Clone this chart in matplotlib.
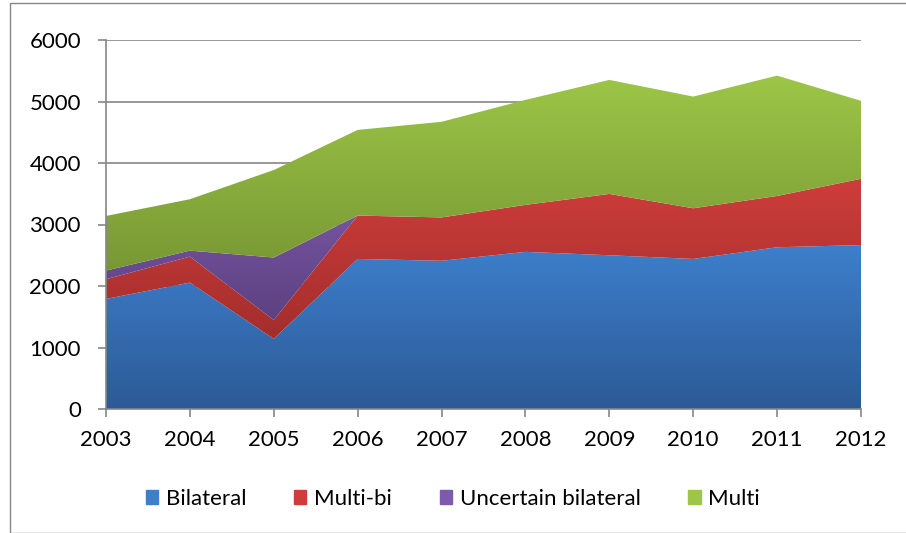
import numpy as np
import matplotlib
matplotlib.use("Agg")
import matplotlib.pyplot as plt
from matplotlib.patches import Rectangle
from matplotlib.colors import LinearSegmentedColormap

plt.rcParams['font.family'] = ['Lato', 'DejaVu Sans']

# data
years = [2003, 2004, 2005, 2006, 2007, 2008, 2009, 2010, 2011, 2012]
bilateral = [1790, 2055, 1140, 2440, 2410, 2555, 2500, 2440, 2630, 2665]
multi_bi = [320, 423, 307, 705, 705, 764, 997, 824, 834, 1078]
uncertain = [140, 97, 1016, 0, 0, 0, 0, 0, 0, 0]
multi = [889, 836, 1423, 1393, 1555, 1707, 1854, 1816, 1957, 1268]

names = ['Bilateral', 'Multi-bi', 'Uncertain bilateral', 'Multi']
# (top colour, bottom colour) for the gradient fills
grads = [('#3d7fcc', '#2c5a96'),
         ('#ce3d3b', '#a32e2c'),
         ('#7d5aab', '#5c4180'),
         ('#9dc647', '#789834')]

fig = plt.figure(figsize=(9.06, 5.33), dpi=100)
ax = fig.add_axes([106/906, 1-409/533, (861-106)/906, (409-40)/533])

x = np.arange(len(years))
series = [bilateral, multi_bi, uncertain, multi]
base = np.zeros(len(years))
for vals, (ctop, cbot), name in zip(series, grads, names):
    top = base + np.array(vals)
    poly = ax.fill_between(x, base, top, color=ctop, linewidth=0, label=name)
    poly.set_visible(False)
    path = poly.get_paths()[0]
    ymin, ymax = base.min(), top.max()
    cmap = LinearSegmentedColormap.from_list('g', [cbot, ctop])
    img = ax.imshow(np.linspace(0, 1, 256).reshape(-1, 1), cmap=cmap,
                    aspect='auto', origin='lower',
                    extent=[x[0], x[-1], ymin, ymax], zorder=2)
    img.set_clip_path(path, transform=ax.transData)
    base = top

ax.set_xlim(x[0], x[-1])
ax.set_ylim(0, 6000)
ax.set_yticks(range(0, 6001, 1000))
ax.set_xticks(x)
ax.set_xticklabels([str(y) for y in years])
ax.grid(axis='y', color='#868686', linewidth=1.2, zorder=1)
ax.set_axisbelow(True)
for s in ['top', 'right']:
    ax.spines[s].set_visible(False)
for s in ['left', 'bottom']:
    ax.spines[s].set_color('#868686')
    ax.spines[s].set_linewidth(1.2)
ax.tick_params(axis='both', direction='out', length=6, color='#868686',
               width=1.2, labelsize=16)
ax.tick_params(axis='y', pad=12)
ax.tick_params(axis='x', pad=9)

handles = [Rectangle((0, 0), 1, 1, color=c[0]) for c in grads]
fig.legend(handles, names, loc='center', bbox_to_anchor=(0.5, 1-499/533),
           ncol=4, frameon=False, fontsize=16, handlelength=0.55,
           handleheight=0.55, handletextpad=0.35, columnspacing=2.15)

# chart area border
fig.patches.append(Rectangle((10/906, 0), 1, 1-3/533, transform=fig.transFigure,
                             fill=False, edgecolor='#868686', linewidth=1))

fig.savefig('out.png', dpi=100)
